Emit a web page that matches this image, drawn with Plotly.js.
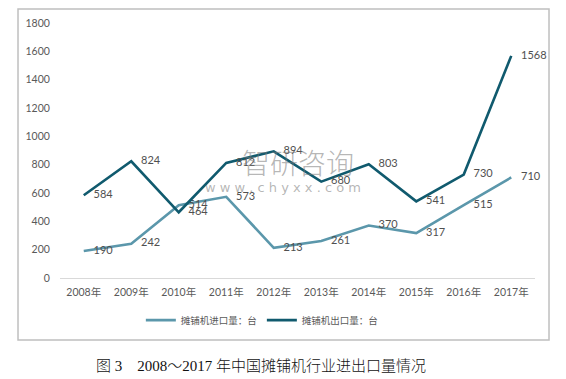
<!DOCTYPE html>
<html>
<head>
<meta charset="utf-8">
<script src="https://cdn.plot.ly/plotly-3.0.1.min.js"></script>
<style>html,body{margin:0;padding:0;background:#fff;}</style>
</head>
<body>
<div id="chart" style="width:566px;height:379px;"></div>
<script>
const years = ["2008年","2009年","2010年","2011年","2012年","2013年","2014年","2015年","2016年","2017年"];
const importName = "摊铺机进口量：台";
const exportName = "摊铺机出口量：台";
const importVals = [190, 242, 514, 573, 213, 261, 370, 317, 515, 710];
const exportVals = [584, 824, 464, 812, 894, 680, 803, 541, 730, 1568];
const yTicks = [0, 200, 400, 600, 800, 1000, 1200, 1400, 1600, 1800];
const caption = "图 3　2008～2017 年中国摊铺机行业进出口量情况";

const labelFont = {family: "Lato, 'Noto Sans CJK SC', sans-serif", size: 11, color: "#505050"};

const traces = [
  {
    x: years, y: importVals, name: importName, type: "scatter", mode: "lines+markers+text",
    line: {color: "#5b97ab", width: 2.6},
    marker: {size: 14, color: "rgba(0,0,0,0)"},
    text: importVals.map(String), textposition: "middle right",
    textfont: labelFont, cliponaxis: false, hoverinfo: "none"
  },
  {
    x: years, y: exportVals, name: exportName, type: "scatter", mode: "lines+markers+text",
    line: {color: "#105a6e", width: 2.6},
    marker: {size: 14, color: "rgba(0,0,0,0)"},
    text: exportVals.map(String), textposition: "middle right",
    textfont: labelFont, cliponaxis: false, hoverinfo: "none"
  }
];

const layout = {
  width: 566, height: 379,
  margin: {l: 60, r: 31, t: 23, b: 101},
  paper_bgcolor: "#ffffff", plot_bgcolor: "#ffffff",
  showlegend: true,
  font: labelFont,
  xaxis: {
    type: "category", range: [-0.5, 9.5], showgrid: false, zeroline: false,
    showline: true, linecolor: "#d9d9d9", linewidth: 1,
    ticks: "outside", ticklen: 4, tickcolor: "rgba(0,0,0,0)",
    tickfont: {family: "Lato, 'Noto Sans CJK SC', sans-serif", size: 10.5, color: "#595959"},
    fixedrange: true
  },
  yaxis: {
    range: [0, 1800], tickvals: yTicks, ticktext: yTicks.map(String),
    showgrid: false, zeroline: false, showline: false,
    ticks: "outside", ticklen: 7, tickcolor: "rgba(0,0,0,0)",
    tickfont: {family: "Lato, sans-serif", size: 10.5, color: "#595959"},
    fixedrange: true
  },
  legend: {
    orientation: "h", x: 0.426, xanchor: "center", y: -0.165, yanchor: "middle",
    font: {family: "'Noto Sans CJK SC', sans-serif", size: 9.5, color: "#595959"},
    itemwidth: 30, tracegroupgap: 0, bgcolor: "rgba(0,0,0,0)"
  },
  shapes: [
    {type: "rect", xref: "paper", yref: "paper", x0: -0.0884, x1: 1.0295, y0: -0.2431, y1: 1.0549,
     line: {color: "#bfbfbf", width: 1.5}, fillcolor: "rgba(0,0,0,0)", layer: "below"}
  ],
  annotations: [
    {xref: "paper", yref: "paper", x: 0.423, y: -0.345, xanchor: "center", yanchor: "middle",
     text: caption, showarrow: false,
     font: {family: "'Liberation Serif', 'Noto Sans CJK SC', serif", size: 15, weight: 300, color: "#111111"}},
    {xref: "paper", yref: "paper", x: 0.5, y: 0.455, xanchor: "center", yanchor: "middle",
     text: "智研咨询", showarrow: false,
     font: {family: "'Noto Sans CJK SC', sans-serif", size: 28, weight: 300, color: "rgba(120,120,120,0.55)"}},
    {xref: "paper", yref: "paper", x: 0.47, y: 0.355, xanchor: "center", yanchor: "middle",
     text: "w w w . c h y x x . c o m", showarrow: false,
     font: {family: "'DejaVu Sans', sans-serif", size: 13, color: "rgba(120,120,120,0.55)"}}
  ]
};

Plotly.newPlot("chart", traces, layout, {displayModeBar: false, staticPlot: true});
</script>
</body>
</html>
